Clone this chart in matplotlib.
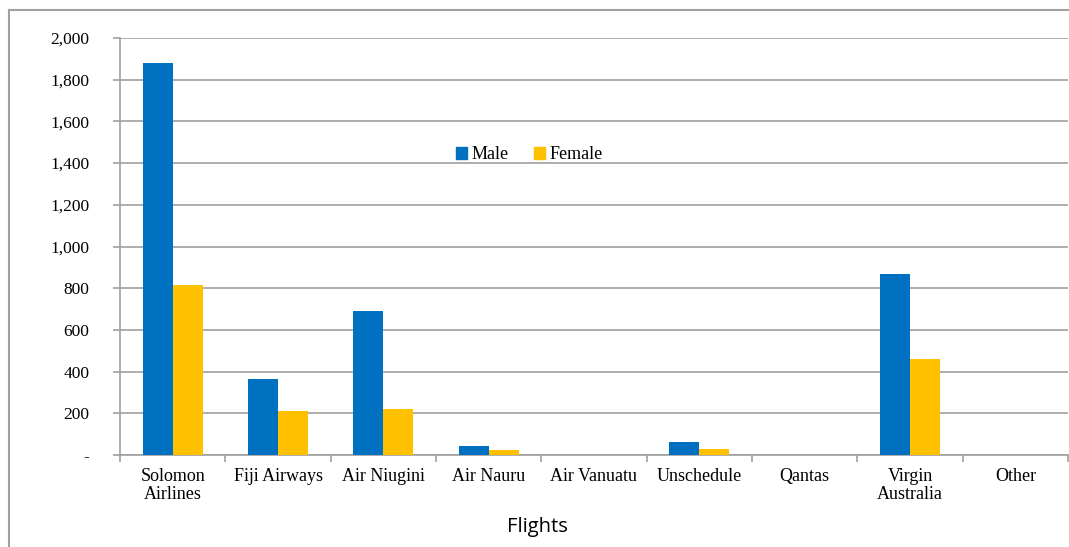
import matplotlib.pyplot as plt
from matplotlib.lines import Line2D
from matplotlib.patches import Patch
import numpy as np

# data
airlines = ['Solomon\nAirlines', 'Fiji Airways', 'Air Niugini', 'Air Nauru', 'Air Vanuatu',
            'Unschedule', 'Qantas', 'Virgin\nAustralia', 'Other']
male = [1880, 365, 690, 42, 0, 64, 0, 868, 0]
female = [815, 210, 219, 22, 0, 29, 0, 460, 0]
yticks = [0, 200, 400, 600, 800, 1000, 1200, 1400, 1600, 1800, 2000]

blue = '#0070C0'
gold = '#FFC000'
grey = '#A0A0A0'
serif = ['Liberation Serif', 'DejaVu Serif']

W, H = 1069, 547
fig = plt.figure(figsize=(W / 100, H / 100), dpi=100)
ax = fig.add_axes([120 / W, 1 - 455 / H, (1068 - 120) / W, (455 - 38) / H])

x = np.arange(len(airlines))
w = 0.285
ax.bar(x - w / 2, male, w, color=blue, zorder=3)
ax.bar(x + w / 2, female, w, color=gold, zorder=3)

ax.set_xlim(-0.5, len(airlines) - 0.5)
ax.set_ylim(0, 2000)
ax.set_yticks(yticks)
ax.set_yticklabels(['-' if v == 0 else f'{v:,}' for v in yticks], family=serif, fontsize=12.5)
ax.yaxis.grid(True, color=grey, lw=1.2, zorder=0)

# category labels centred, ticks on boundaries
ax.set_xticks(x)
ax.set_xticklabels(airlines, family=serif, fontsize=13, linespacing=1.05)
ax.tick_params(axis='x', length=0, pad=9.5)
ax.set_xticks(np.arange(len(airlines) + 1) - 0.5, minor=True)
ax.tick_params(axis='x', which='minor', length=5, color=grey, width=1.2)
ax.tick_params(axis='y', length=5, color=grey, width=1.2, pad=17)

for s in ['top', 'right']:
    ax.spines[s].set_visible(False)
for s in ['left', 'bottom']:
    ax.spines[s].set_color(grey)
    ax.spines[s].set_linewidth(1.2)

handles = [Patch(color=blue, label='Male'), Patch(color=gold, label='Female')]
ax.legend(handles=handles, loc='center', bbox_to_anchor=(0.432, 0.72), ncol=2, frameon=False,
          prop={'family': serif, 'size': 13}, handlelength=0.6, handleheight=0.6,
          handletextpad=0.25, columnspacing=1.4)

fig.text(537 / W, 1 - 527 / H, 'Flights', ha='center', va='center', fontsize=14.5,
         family=['Open Sans', 'DejaVu Sans'])

# outer chart border
fig.add_artist(Line2D([9 / W, 9 / W], [0, 1 - 10 / H], color=grey, lw=1.5))
fig.add_artist(Line2D([9 / W, 1], [1 - 10 / H, 1 - 10 / H], color=grey, lw=1.5))

fig.savefig('out.png', dpi=100)
